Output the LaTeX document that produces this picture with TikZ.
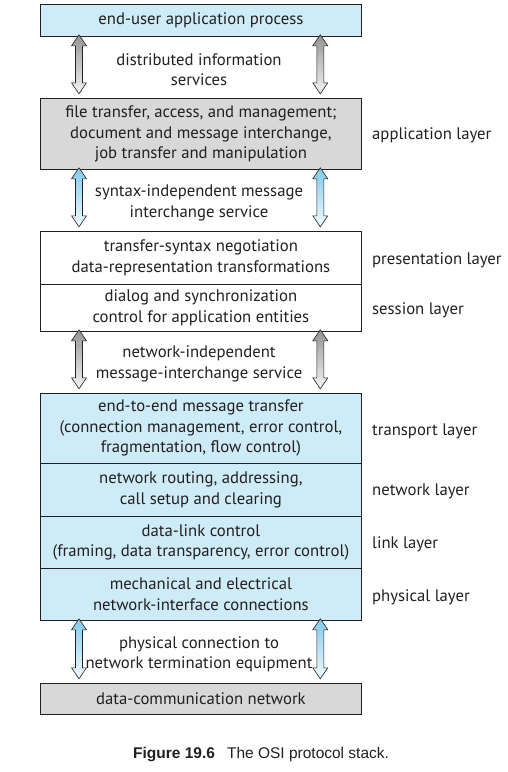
\documentclass[tikz,border=0pt]{standalone}
\usepackage{fontspec}
\setmainfont{PT Sans}
\newfontfamily\capfont{Liberation Sans}
\usetikzlibrary{calc}
\definecolor{boxblue}{RGB}{205,236,248}
\definecolor{boxgray}{RGB}{216,216,216}
\definecolor{arrgray}{RGB}{150,150,150}
\definecolor{arrblue}{RGB}{130,204,238}
\definecolor{txt}{RGB}{35,31,32}
\tikzset{
  layer/.style={draw=txt, line width=0.8pt, minimum width=321pt, inner sep=0pt, align=center,
    text=txt, font=\fontsize{16.7}{20.5}\selectfont, anchor=north west},
  lab/.style={text=txt, font=\fontsize{16.7}{20.5}\selectfont, anchor=west, inner sep=0pt},
  svc/.style={text=txt, font=\fontsize{16.7}{20.5}\selectfont, align=center, inner sep=0pt},
  pics/dblarr/.style args={#1/#2}{code={
    \begin{scope}
    \clip (0,0) -- (7.5,11) -- (3.5,11) -- (3.5,#1-11) -- (7.5,#1-11) -- (0,#1)
      -- (-7.5,#1-11) -- (-3.5,#1-11) -- (-3.5,11) -- (-7.5,11) -- cycle;
    \foreach \i [evaluate=\i as \m using {int(100-4.5*\i)}] in {0,...,19}
      \fill[#2!\m!white] (-9,{\i*#1/20}) rectangle (9,{(\i+1)*#1/20+0.6});
    \end{scope}
    \path[draw=txt, line width=0.6pt, line join=miter]
      (0,0) -- (7.5,11) -- (3.5,11) -- (3.5,#1-11) -- (7.5,#1-11) -- (0,#1)
      -- (-7.5,#1-11) -- (-3.5,#1-11) -- (-3.5,11) -- (-7.5,11) -- cycle;
  }}
}
\begin{document}
\begin{tikzpicture}[x=1pt,y=-1pt]
\useasboundingbox (0,0) rectangle (508,772);
% boxes
\node[layer, fill=boxblue, minimum height=32pt] (eu) at (40,4) {end-user application process};
\node[layer, fill=boxgray, minimum height=71pt] (app) at (40,98) {file transfer, access, and management;\\document and message interchange,\\job transfer and manipulation};
\node[layer, fill=white, minimum height=53pt] (pres) at (40,231) {transfer-syntax negotiation\\data-representation transformations};
\node[layer, fill=white, minimum height=47pt] (sess) at (40,284) {dialog and synchronization\\control for application entities};
\node[layer, fill=boxblue, minimum height=70pt] (trans) at (40,393) {end-to-end message transfer\\(connection management, error control,\\fragmentation, flow control)};
\node[layer, fill=boxblue, minimum height=53pt] (net) at (40,463) {network routing, addressing,\\call setup and clearing};
\node[layer, fill=boxblue, minimum height=52pt] (link) at (40,516) {data-link control\\(framing, data transparency, error control)};
\node[layer, fill=boxblue, minimum height=52pt] (phys) at (40,568) {mechanical and electrical\\network-interface connections};
\node[layer, fill=boxgray, minimum height=31pt] (dcn) at (40,683) {data-communication network};
% layer labels
\node[lab] (lapp) at (372,135) {application layer};
\node[lab] (lpres) at (372,260) {presentation layer};
\node[lab] (lsess) at (372,310) {session layer};
\node[lab] (ltrans) at (372,431) {transport layer};
\node[lab] (lnet) at (372,491) {network layer};
\node[lab] (llink) at (372,544) {link layer};
\node[lab] (lphys) at (372,597) {physical layer};
% service labels
\node[svc] (s1) at (199,69.5) {distributed information\\services};
\node[svc] (s2) at (199,203) {syntax-independent message\\interchange service};
\node[svc] (s3) at (199,364) {network-independent\\message-interchange service};
\node[svc] (s4) at (199,654) {physical connection to\\network termination equipment};
% arrows
\pic at ($(eu.south west)+(39,-2)$) {dblarr={59/arrgray}};
\pic at ($(eu.south east)+(-41.5,-2)$) {dblarr={59/arrgray}};
\pic at ($(app.south west)+(39,-2)$) {dblarr={59/arrblue}};
\pic at ($(app.south east)+(-41.5,-2)$) {dblarr={59/arrblue}};
\pic at ($(sess.south west)+(39,-2)$) {dblarr={59/arrgray}};
\pic at ($(sess.south east)+(-41.5,-2)$) {dblarr={59/arrgray}};
\pic at ($(phys.south west)+(39,-2)$) {dblarr={60/arrblue}};
\pic at ($(phys.south east)+(-41.5,-2)$) {dblarr={60/arrblue}};
% caption
\node[anchor=base west, inner sep=0pt, font=\capfont\fontsize{15.5}{18}\selectfont, text=txt] (cap) at (133,758) {\textbf{Figure 19.6}\hspace{12pt}The OSI protocol stack.};
\end{tikzpicture}
\end{document}
